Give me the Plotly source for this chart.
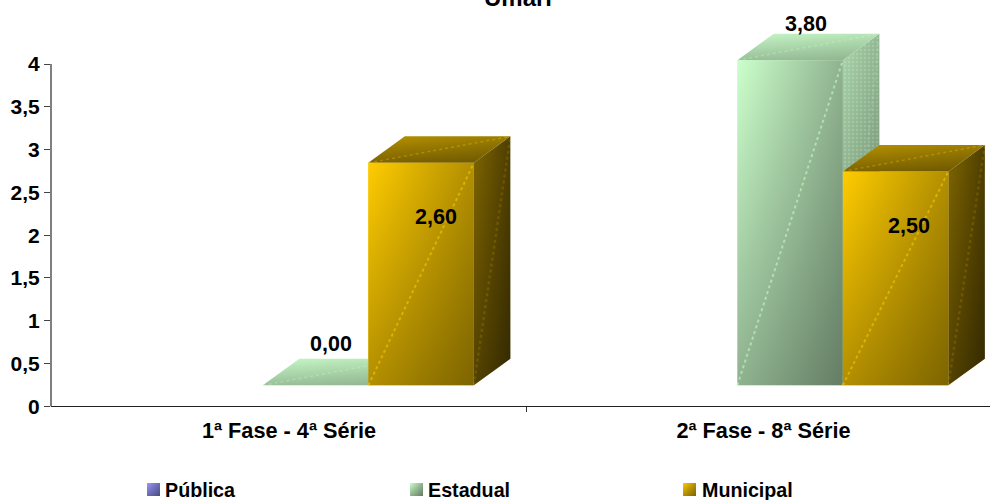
import plotly.graph_objects as go

# ---- data ----
CATEGORIES = ["1ª Fase - 4ª Série", "2ª Fase - 8ª Série"]
SERIES_NAMES = ["Pública", "Estadual", "Municipal"]
PUBLICA = [None, None]
ESTADUAL = [0.0, 3.8]
MUNICIPAL = [2.6, 2.5]
Y_TICKS = [0, 0.5, 1, 1.5, 2, 2.5, 3, 3.5, 4]
Y_LABELS = ["0", "0,5", "1", "1,5", "2", "2,5", "3", "3,5", "4"]
TITLE = "Umari"

# ---- style / geometry ----
FONT = "Liberation Sans"
PX_X = 474.5
PX_Y = 85.55
Y0_PX = 406.3
X_LEFT_PX, CAT0_PX = 51, 289
BASE = 21 / PX_Y
DX = 36.5 / PX_X
DY = 26.5 / PX_Y
BW = 105.5 / PX_X
GROUP_OFF = 26.6 / PX_X
COLORS = {"Pública": (153, 153, 255), "Estadual": (204, 255, 204), "Municipal": (255, 204, 0)}
FRONT_F = 0.70
SIDE = {"Estadual": (0.84, 0.85, 0.62), "Municipal": (0.50, 0.62, 0.65)}
TOP = {"Estadual": (0.97, 0.92, 0.78), "Municipal": (0.72, 0.85, 0.68)}
LABEL_SHIFT = {"Estadual": [(15, 41), (16, 36)], "Municipal": [(15, -54), (13, -55)]}
LEGEND = {"Pública": (147, 165), "Estadual": (410, 428), "Municipal": (683, 702)}
H = 500


def rgb(c, f=1.0):
    return "rgb(%d,%d,%d)" % tuple(round(v * f) for v in c)


fig = go.Figure()


def face(xs, ys, c, f0, fh, fv, xa="x", ya="y"):
    """Fill polygon with approximated diagonal gradient: two stacked linear gradients."""
    common = dict(x=xs + xs[:1], y=ys + ys[:1], mode="lines", line=dict(width=0), fill="toself",
                  hoverinfo="skip", showlegend=False, xaxis=xa, yaxis=ya)
    fig.add_trace(go.Scatter(**common, fillgradient=dict(
        type="horizontal", colorscale=[[0, rgb(c, f0)], [1, rgb(c, f0 * fh)]])))
    fig.add_trace(go.Scatter(**common, fillgradient=dict(
        type="vertical", colorscale=[[0, "rgba(0,0,0,%.3f)" % (1 - fv)], [1, "rgba(0,0,0,0)"]])))


def streak(xs, ys, color, w=1.5):
    fig.add_trace(go.Scatter(x=xs, y=ys, mode="lines", line=dict(color=color, width=w, dash="dot"),
                             hoverinfo="skip", showlegend=False))


series = {"Pública": PUBLICA, "Estadual": ESTADUAL, "Municipal": MUNICIPAL}
annotations = []

for si, name in enumerate(SERIES_NAMES):
    vals = series[name]
    c = COLORS[name]
    xc = [i + GROUP_OFF + (si - 1) * BW for i in range(len(CATEGORIES))]
    fig.add_trace(go.Bar(x=xc, y=vals, base=BASE, width=BW, name=name, showlegend=False,
                         marker=dict(color=rgb(c), line=dict(width=0))))
    for i, v in enumerate(vals):
        if v is None:
            continue
        x0, x1 = xc[i] - BW / 2, xc[i] + BW / 2
        y0, y1 = BASE, BASE + v
        # right side
        sf0, sfh, sfv = SIDE[name]
        face([x1, x1 + DX, x1 + DX, x1], [y0, y0 + DY, y1 + DY, y1], c, sf0, sfh, sfv)
        if name == "Estadual" and v > 0:
            fig.add_trace(go.Scatter(x=[x1, x1 + DX, x1 + DX, x1, x1], y=[y0, y0 + DY, y1 + DY, y1, y0],
                                     mode="lines", line=dict(width=0), fill="toself", fillcolor="rgba(0,0,0,0)",
                                     fillpattern=dict(shape=".", fgcolor="rgba(220,255,220,0.4)", size=4, solidity=0.3),
                                     hoverinfo="skip", showlegend=False))
        # top
        tf0, tfh, tfv = TOP[name]
        face([x0, x1, x1 + DX, x0 + DX], [y1, y1, y1 + DY, y1 + DY], c, tf0, tfh, tfv)
        streak([x0, x1 + DX], [y1, y1 + DY], "rgba(%d,%d,%d,0.3)" % c)
        # front
        if v > 0:
            face([x0, x1, x1, x0], [y0, y0, y1, y1], c, 1.0, FRONT_F, FRONT_F)
            streak([x0, x1], [y0, y1], "rgba(%d,%d,%d,0.55)" % c, 2)
            streak([x1, x1 + DX], [y0, y1 + DY], "rgba(%d,%d,%d,0.14)" % c, 2.5)
        sx, sy = LABEL_SHIFT[name][i]
        annotations.append(dict(x=xc[i], y=y1, xref="x", yref="y", text=f"{v:.2f}".replace(".", ","),
                                showarrow=False, xshift=sx, yshift=sy, xanchor="center", yanchor="middle",
                                font=dict(family=FONT, size=21.5, color="black", weight=700)))

# hand-placed legend drawn on a full-window pixel axis pair
for name in SERIES_NAMES:
    kx, tx = LEGEND[name]
    face([kx, kx + 13, kx + 13, kx], [496, 496, 483, 483], COLORS[name], 1.0, FRONT_F, FRONT_F, "x2", "y2")
    annotations.append(dict(x=tx, y=490, xref="x2", yref="y2", text=name, showarrow=False, xanchor="left",
                            yanchor="middle", xshift=-2, font=dict(family=FONT, size=19.7, color="black", weight=700)))

annotations.append(dict(x=518, y=13, xref="x2", yref="y2", text=TITLE, showarrow=False, xanchor="center",
                        yanchor="bottom", yshift=0, font=dict(family=FONT, size=24, color="black", weight=700)))

fig.update_layout(
    width=990, height=H, margin=dict(l=0, r=0, t=0, b=0, autoexpand=False), autosize=False,
    paper_bgcolor="white", plot_bgcolor="rgba(0,0,0,0)", barmode="overlay", showlegend=False,
    font=dict(family=FONT, color="black"), annotations=annotations,
    xaxis=dict(domain=[X_LEFT_PX / 990, 1], range=[(X_LEFT_PX - CAT0_PX) / PX_X, (990 - CAT0_PX) / PX_X],
               tickmode="array", tickvals=[0, 1], ticktext=CATEGORIES, ticks="", showgrid=False, zeroline=False,
               showline=True, linecolor="#222222", linewidth=1, ticklabelstandoff=5,
               tickfont=dict(family=FONT, size=21.7, color="black", weight=700),
               minor=dict(tickmode="array", tickvals=[0.5], ticks="outside", ticklen=5, tickcolor="#333333", tickwidth=1,
                          showgrid=False)),
    yaxis=dict(domain=[1 - Y0_PX / H, 1], range=[0, Y0_PX / PX_Y], tickmode="array", tickvals=Y_TICKS, ticktext=Y_LABELS,
               ticks="outside", ticklen=6, tickcolor="#444444", tickwidth=1, showgrid=False, zeroline=False, showline=False,
               tickfont=dict(family=FONT, size=21, color="black", weight=700)),
    xaxis2=dict(domain=[0, 1], range=[0, 990], visible=False, anchor="y2"),
    yaxis2=dict(domain=[0, 1], range=[H, 0], visible=False, anchor="x2"),
    shapes=[dict(type="line", xref="x domain", yref="y", x0=0, x1=0, y0=-0.055, y1=4,
                 line=dict(color="#555555", width=1.5))],
)

fig.write_html("out.html", config={"displayModeBar": False}, post_script="document.body.style.margin='0';")
